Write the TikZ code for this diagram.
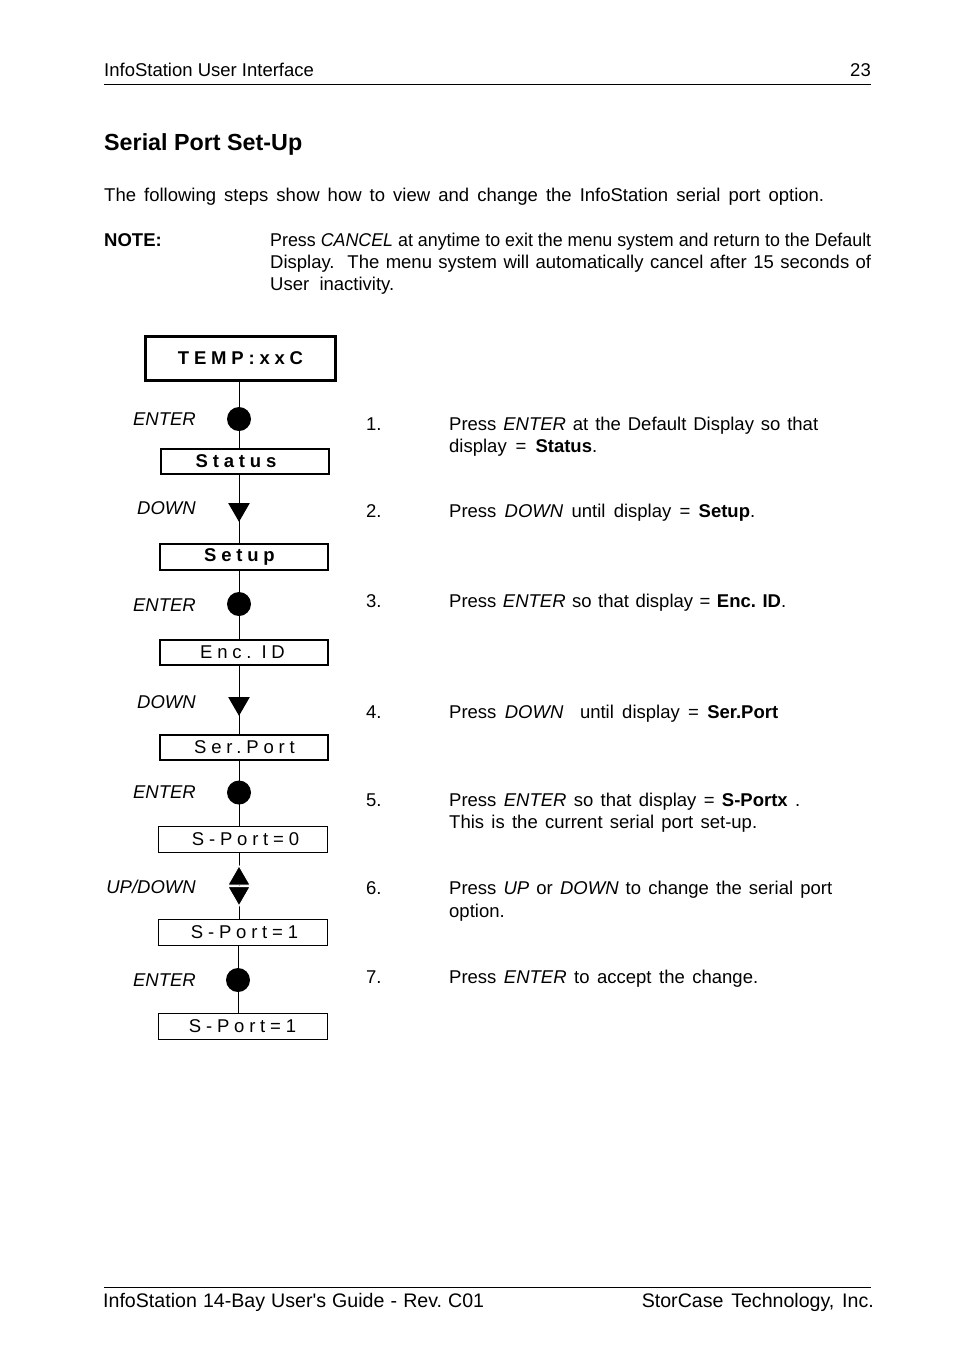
\documentclass[tikz,border=0pt]{standalone}
\usepackage{fontspec}
\setmainfont{Liberation Sans}
\newfontfamily\lcdfont[LetterSpace=26]{Liberation Sans}
\usepackage{graphicx}
\usetikzlibrary{shapes.geometric,backgrounds}
\newcommand{\bodysize}{\fontsize{18.5}{22}\selectfont}
\newcommand{\footsize}{\fontsize{19.6}{23}\selectfont}
\frenchspacing
\begin{document}
\begin{tikzpicture}[x=1pt,y=-1pt,
  txt/.style={font=\bodysize, inner sep=0pt, anchor=base west},
  foottxt/.style={font=\footsize, inner sep=0pt, anchor=base west},
  keylbl/.style={font=\itshape\bodysize, inner sep=0pt, anchor=base east},
  lcd/.style={draw, fill=white, inner sep=0pt, font=\lcdfont\bodysize},
  lcdthick/.style={lcd, line width=3pt, minimum width=190pt, minimum height=44pt},
  lcdmed/.style={lcd, line width=2pt, minimum width=168pt, minimum height=25pt},
  lcdthin/.style={lcd, line width=1.2pt, minimum width=169pt, minimum height=26pt},
  press/.style={circle, fill=black, minimum size=24pt, inner sep=0pt},
  downtri/.style={regular polygon, regular polygon sides=3, shape border rotate=180, fill=black, minimum size=25pt, inner sep=0pt},
  uptri/.style={regular polygon, regular polygon sides=3, fill=black, minimum size=25pt, inner sep=0pt},
  wire/.style={line width=1pt},
  rule/.style={line width=1pt}]
\useasboundingbox (0,0) rectangle (954,1369);

% header
\node[txt] (hdr) at (104,76) {InfoStation User Interface};
\node[txt, anchor=base east] (pg) at (871,76) {23};
\draw[rule] (104,84) -- (871,84);
\node[txt, font=\bfseries\fontsize{23.3}{28}\selectfont] (title) at (104,150) {Serial Port Set-Up};
\node[txt] (intro) at (104,201) {\makebox[720pt][s]{The following steps show how to view and change the InfoStation serial port option.}};
\node[txt, font=\bfseries\bodysize] (notelbl) at (104,246) {NOTE:};
\node[txt] (note1) at (270,246) {\resizebox{601pt}{\height}{Press \textit{CANCEL} at anytime to exit the menu system and return to the Default}};
\node[txt] (note2) at (270,268) {\makebox[601pt][s]{Display.\ \ The menu system will automatically cancel after 15 seconds of}};
\node[txt] (note3) at (270,290) {User\ \ inactivity.};

% display boxes
\node[lcdthick, font=\lcdfont\bfseries\bodysize] (temp) at (240.5,358.5) {TEMP:xxC};
\node[lcdmed, font=\lcdfont\bfseries\bodysize] (status) at (245,461) {\hspace*{-18pt}Status};
\node[lcdmed, font=\lcdfont\bfseries\bodysize, minimum height=26pt] (setup) at (243.5,557) {\hspace*{-8pt}Setup};
\node[lcdmed] (enc) at (243.5,652.5) {\hspace*{-2pt}Enc. ID};
\node[lcdmed] (ser) at (243.5,747.5) {\hspace*{2pt}Ser.Port};
\node[lcdthin] (sp0) at (243,839.5) {\hspace*{5pt}S-Port=0};
\node[lcdthin] (sp1) at (243,932.5) {\hspace*{3pt}S-Port=1};
\node[lcdthin] (sp2) at (243,1026.5) {\hspace*{-1pt}S-Port=1};

% key symbols
\node[press] (e1) at (239,419) {};
\node[downtri] (d1) at (239,509.3) {};
\node[press] (e2) at (239,604) {};
\node[downtri] (d2) at (239,703.3) {};
\node[press] (e3) at (239,792.5) {};
\node[uptri, draw=white, line width=1pt, minimum size=26pt] (u3) at (239,878.7) {};
\node[downtri, draw=white, line width=1pt, minimum size=26pt] (d3) at (239,893) {};
\node[press] (e4) at (238,980) {};

% key labels
\node[keylbl] (le1) at (196,425.5) {ENTER};
\node[keylbl] (ld1) at (196,514) {DOWN};
\node[keylbl] (le2) at (196,611) {ENTER};
\node[keylbl] (ld2) at (196,708) {DOWN};
\node[keylbl] (le3) at (196,798) {ENTER};
\node[keylbl] (lud) at (196,893) {UP/DOWN};
\node[keylbl] (le4) at (196,986) {ENTER};

% connectors
\begin{scope}[on background layer]
\draw[wire] (e1 |- temp.south) -- (e1 |- status.north);
\draw[wire] (d1 |- status.south) -- (d1 |- setup.north);
\draw[wire] (e2 |- setup.south) -- (e2 |- enc.north);
\draw[wire] (d2 |- enc.south) -- (d2 |- ser.north);
\draw[wire] (e3 |- ser.south) -- (e3 |- sp0.north);
\draw[wire] (u3 |- sp0.south) -- (u3 |- sp1.north);
\draw[wire] (e4 |- sp1.south) -- (e4 |- sp2.north);
\end{scope}

% steps
\node[txt] (n1) at (366,430) {1.};
\node[txt] (s1a) at (449,430) {\makebox[369pt][s]{Press \textit{ENTER} at the Default Display so that}};
\node[txt] (s1b) at (449,452) {\makebox[148pt][s]{display = \textbf{Status}.}};
\node[txt] (n2) at (366,517) {2.};
\node[txt] (s2) at (449,517) {\makebox[306pt][s]{Press \textit{DOWN} until display = \textbf{Setup}.}};
\node[txt] (n3) at (366,607) {3.};
\node[txt] (s3) at (449,607) {\makebox[337pt][s]{Press \textit{ENTER} so that display = \textbf{Enc. ID}.}};
\node[txt] (n4) at (366,718) {4.};
\node[txt] (s4) at (449,718) {\makebox[329pt][s]{Press \textit{DOWN}\ \ until display = \textbf{Ser.Port}}};
\node[txt] (n5) at (366,806) {5.};
\node[txt] (s5a) at (449,806) {\makebox[351pt][s]{Press \textit{ENTER} so that display = \textbf{S-Portx} .}};
\node[txt] (s5b) at (449,828) {\makebox[308pt][s]{This is the current serial port set-up.}};
\node[txt] (n6) at (366,894) {6.};
\node[txt] (s6a) at (449,894) {\makebox[383pt][s]{Press \textit{UP} or \textit{DOWN} to change the serial port}};
\node[txt] (s6b) at (449,917) {option.};
\node[txt] (n7) at (366,983) {7.};
\node[txt] (s7) at (449,983) {\makebox[309pt][s]{Press \textit{ENTER} to accept the change.}};

% footer
\draw[rule] (104,1287) -- (871,1287);
\node[foottxt] (ftl) at (103,1307) {\makebox[381pt][s]{InfoStation 14-Bay User\textquotesingle s Guide - Rev. C01}};
\node[foottxt, anchor=base east] (ftr) at (874,1307) {\makebox[232pt][s]{StorCase Technology, Inc.}};
\end{tikzpicture}
\end{document}
